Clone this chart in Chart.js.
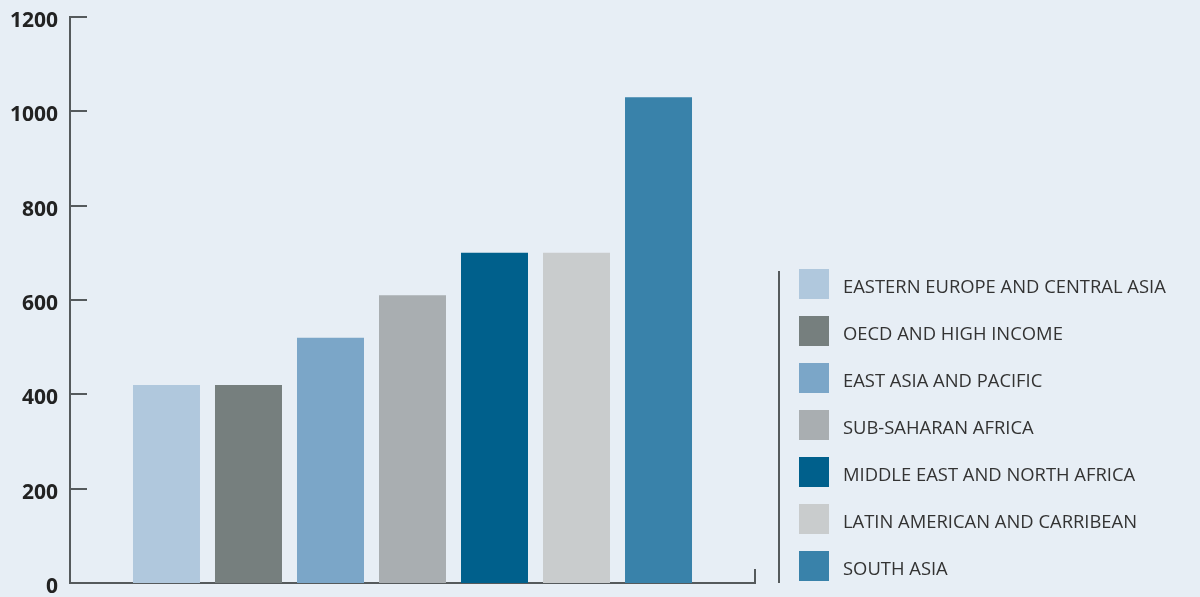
<!DOCTYPE html>
<html><head><meta charset="utf-8">
<script src="https://cdn.jsdelivr.net/npm/chart.js@4"></script>
<style>html,body{margin:0;padding:0;background:#e7eef5;}#wrap{width:1200px;height:597px;position:relative;}</style>
</head><body><div id="wrap"><canvas id="c" width="1200" height="597"></canvas></div>
<script>
const regions = ["EASTERN EUROPE AND CENTRAL ASIA","OECD AND HIGH INCOME","EAST ASIA AND PACIFIC","SUB-SAHARAN AFRICA","MIDDLE EAST AND NORTH AFRICA","LATIN AMERICAN AND CARRIBEAN","SOUTH ASIA"];
const values = [420, 420, 520, 610, 700, 700, 1030];
const colors = ["#b0c8dd","#767f7e","#7ba6c8","#a9aeb1","#00608c","#c9cccd","#3982aa"];
const yTicks = [0,200,400,600,800,1000,1200];
const AXIS = "#555a5c";

const decor = {
  id:'decor',
  afterDraw(chart){
    const ctx = chart.ctx, y = chart.scales.y, ca = chart.chartArea;
    ctx.save();
    ctx.strokeStyle = AXIS; ctx.lineWidth = 2;
    yTicks.forEach(v=>{ if(v===0) return; const py=Math.round(y.getPixelForValue(v));
      ctx.beginPath(); ctx.moveTo(ca.left, py); ctx.lineTo(ca.left+17, py); ctx.stroke(); });
    ctx.beginPath(); ctx.moveTo(ca.right, ca.bottom); ctx.lineTo(ca.right, ca.bottom-14); ctx.stroke();
    ctx.beginPath(); ctx.moveTo(779, ca.bottom); ctx.lineTo(779, 271); ctx.stroke();
    ctx.font = '18.4px "Open Sans"'; ctx.textBaseline='middle'; ctx.textAlign='left';
    chart.data.datasets.forEach((ds,i)=>{
      const cy = ca.bottom - 17 - (regions.length-1-i)*47;
      ctx.fillStyle = ds.backgroundColor; ctx.fillRect(799, cy-15, 30, 30);
      ctx.fillStyle = '#333'; ctx.fillText(ds.label, 843, cy+4);
    });
    ctx.restore();
  }
};

new Chart(document.getElementById('c'), {
  type:'bar',
  data:{ labels:[''], datasets: regions.map((r,i)=>({label:r, data:[values[i]], backgroundColor:colors[i], categoryPercentage:0.838, barPercentage:0.817})) },
  options:{
    responsive:false, animation:false,
    layout:{padding:{top:17,bottom:14,right:445,left:0}},
    plugins:{legend:{display:false}, tooltip:{enabled:false}},
    scales:{
      x:{ grid:{display:false, drawTicks:false}, ticks:{display:false}, border:{display:true,color:AXIS,width:2},
          afterFit(s){ s.height=0; s.paddingLeft=0; s.paddingRight=0; } },
      y:{ min:0, max:1200, grid:{display:false, drawTicks:false}, border:{display:true,color:AXIS,width:2},
          ticks:{stepSize:200, padding:12, labelOffset:4, color:'#222', callback:(v)=>String(v),
                 font:{family:'"Open Sans"', size:21, weight:'bold'}},
          afterFit(s){ s.width=70; s.paddingTop=0; s.paddingBottom=0; } }
    }
  },
  plugins:[decor]
});
</script></body></html>
